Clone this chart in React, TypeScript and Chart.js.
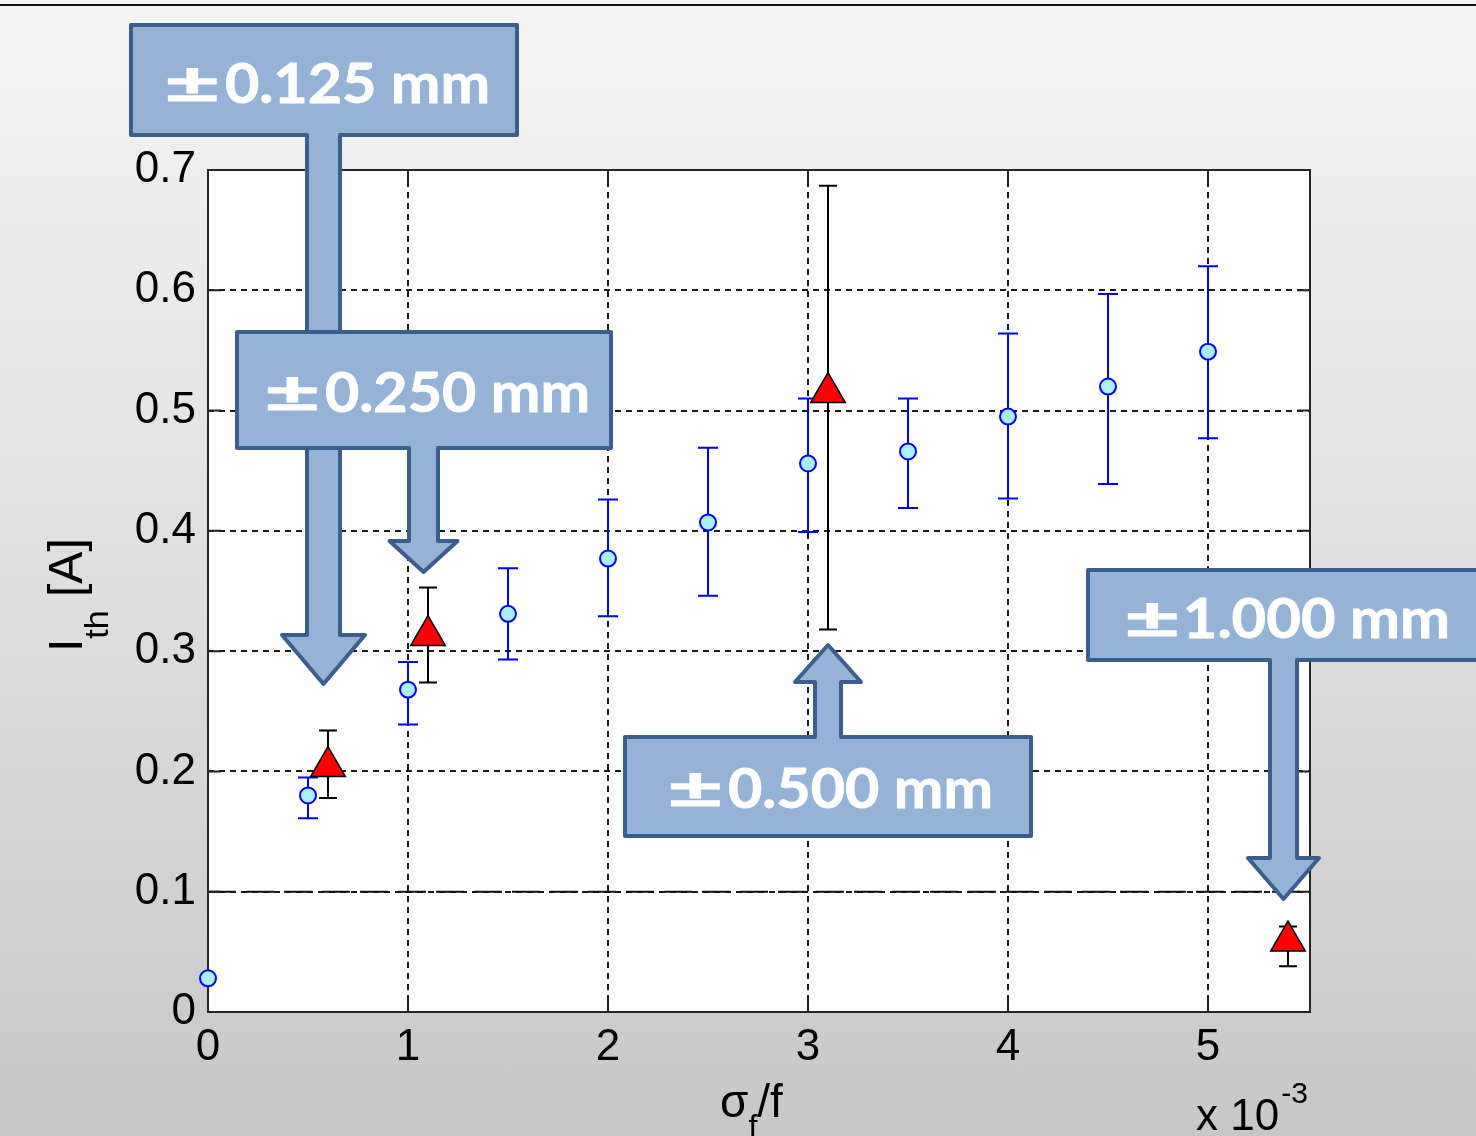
import React, { useEffect, useRef } from 'react';
import { Chart, registerables } from 'chart.js';

Chart.register(...registerables);

// Focal spread σf/f, in units of 10^-3
const ratioMeasured = [0, 0.5, 1.0, 1.5, 2.0, 2.5, 3.0, 3.5, 4.0, 4.5, 5.0];
// Threshold current I_th [A] and its error range
const currentMeasured = [0.028, 0.180, 0.268, 0.331, 0.377, 0.407, 0.456, 0.466, 0.495, 0.520, 0.549];
const upperMeasured = [null, 0.195, 0.291, 0.369, 0.426, 0.469, 0.510, 0.510, 0.564, 0.597, 0.620];
const lowerMeasured = [null, 0.161, 0.239, 0.293, 0.329, 0.346, 0.399, 0.419, 0.427, 0.439, 0.477];

// Tolerance cases
const ratioTolerance = [0.6, 1.1, 3.1, 5.4];
const currentTolerance = [0.204, 0.313, 0.515, 0.059];
const upperTolerance = [0.234, 0.353, 0.687, 0.071];
const lowerTolerance = [0.178, 0.274, 0.318, 0.038];

const xTickValues = [0, 1, 2, 3, 4, 5];
const yTickValues = [0, 0.1, 0.2, 0.3, 0.4, 0.5, 0.6, 0.7];
const thresholdLevel = 0.1;

const toleranceLabels = ['\u00b10.125 mm', '\u00b10.250 mm', '\u00b10.500 mm', '\u00b11.000 mm'];

const W = 1476;
const H = 1136;
const AXIS_FONT = "'Liberation Sans', Arial, sans-serif";
const CALLOUT_FONT = "Lato, 'Open Sans', sans-serif";

type Callout = {
  box: [number, number, number, number];
  stem: number;
  hw: number;
  head: number;
  base: number;
  tip: number;
  textCenter: number;
  baseline: number;
};

const callouts: Callout[] = [
  { box: [131, 25, 517, 135], stem: 323.5, hw: 16.5, head: 41.5, base: 635, tip: 684, textCenter: 327, baseline: 103 },
  { box: [237, 332, 611, 448], stem: 423.5, hw: 14.5, head: 34, base: 541, tip: 572, textCenter: 427, baseline: 412 },
  { box: [625, 737, 1031, 836], stem: 828, hw: 13, head: 33, base: 682, tip: 645, textCenter: 830, baseline: 808 },
  { box: [1088, 570, 1490, 660], stem: 1283.5, hw: 13.5, head: 35.5, base: 858, tip: 899, textCenter: 1287, baseline: 638 },
];

function drawErrorBars(ctx: CanvasRenderingContext2D, chart: any, xs: number[], hi: (number | null)[], lo: (number | null)[], color: string, cap: number) {
  const { x, y } = chart.scales;
  ctx.strokeStyle = color;
  ctx.lineWidth = 2;
  ctx.setLineDash([]);
  xs.forEach((xv, i) => {
    const h = hi[i];
    const l = lo[i];
    if (h == null || l == null) return;
    const px = x.getPixelForValue(xv);
    const pt = y.getPixelForValue(h);
    const pb = y.getPixelForValue(l);
    ctx.beginPath();
    ctx.moveTo(px, pt);
    ctx.lineTo(px, pb);
    ctx.moveTo(px - cap / 2, pt);
    ctx.lineTo(px + cap / 2, pt);
    ctx.moveTo(px - cap / 2, pb);
    ctx.lineTo(px + cap / 2, pb);
    ctx.stroke();
  });
}

function fitText(ctx: CanvasRenderingContext2D, text: string, left: number, right: number, baseline: number, thicken: number) {
  const m = ctx.measureText(text);
  const ink = m.actualBoundingBoxLeft + m.actualBoundingBoxRight;
  const sx = (right - left) / ink;
  ctx.save();
  ctx.translate(left, baseline);
  ctx.scale(sx, 1);
  ctx.fillText(text, m.actualBoundingBoxLeft, 0);
  if (thicken > 0) {
    ctx.lineWidth = thicken;
    ctx.strokeStyle = ctx.fillStyle as string;
    ctx.lineJoin = 'miter';
    ctx.strokeText(text, m.actualBoundingBoxLeft, 0);
  }
  ctx.restore();
}

function drawCallout(ctx: CanvasRenderingContext2D, c: Callout, label: string) {
  const [x0, y0, x1, y1] = c.box;
  const { stem, hw, head, base, tip } = c;
  ctx.beginPath();
  if (tip > y1) {
    ctx.moveTo(x0, y0);
    ctx.lineTo(x1, y0);
    ctx.lineTo(x1, y1);
    ctx.lineTo(stem + hw, y1);
    ctx.lineTo(stem + hw, base);
    ctx.lineTo(stem + head, base);
    ctx.lineTo(stem, tip);
    ctx.lineTo(stem - head, base);
    ctx.lineTo(stem - hw, base);
    ctx.lineTo(stem - hw, y1);
    ctx.lineTo(x0, y1);
  } else {
    ctx.moveTo(x0, y0);
    ctx.lineTo(stem - hw, y0);
    ctx.lineTo(stem - hw, base);
    ctx.lineTo(stem - head, base);
    ctx.lineTo(stem, tip);
    ctx.lineTo(stem + head, base);
    ctx.lineTo(stem + hw, base);
    ctx.lineTo(stem + hw, y0);
    ctx.lineTo(x1, y0);
    ctx.lineTo(x1, y1);
    ctx.lineTo(x0, y1);
  }
  ctx.closePath();
  ctx.fillStyle = '#95b3d7';
  ctx.fill();
  ctx.lineWidth = 4;
  ctx.lineJoin = 'round';
  ctx.strokeStyle = '#3b5e8b';
  ctx.stroke();

  // label: "±" glyph then the number, each fitted to its span
  ctx.fillStyle = '#ffffff';
  ctx.font = `700 56px ${CALLOUT_FONT}`;
  ctx.textAlign = 'left';
  ctx.textBaseline = 'alphabetic';
  const left = c.textCenter - 160;
  fitText(ctx, label.charAt(0), left + 1, left + 49, c.baseline, 1.2);
  fitText(ctx, label.slice(1), left + 59, left + 320, c.baseline, 0.8);
}

const framePlugin = {
  id: 'frameAndBars',
  beforeDraw(chart: any) {
    const { ctx, chartArea: a } = chart;
    ctx.save();
    ctx.fillStyle = '#ffffff';
    ctx.fillRect(a.left, a.top, a.right - a.left, a.bottom - a.top);
    ctx.restore();
  },
  beforeDatasetsDraw(chart: any) {
    const { ctx, chartArea: a, scales } = chart;
    const { x, y } = scales;
    ctx.save();
    // reference level
    const ty = y.getPixelForValue(thresholdLevel);
    ctx.strokeStyle = '#111111';
    ctx.lineWidth = 2;
    ctx.setLineDash([28, 10]);
    ctx.beginPath();
    ctx.moveTo(a.left, ty);
    ctx.lineTo(a.right, ty);
    ctx.stroke();
    ctx.setLineDash([]);

    // inward ticks on all four sides
    const tl = 13;
    ctx.strokeStyle = '#222222';
    ctx.lineWidth = 2;
    ctx.beginPath();
    xTickValues.forEach((v) => {
      const px = x.getPixelForValue(v);
      ctx.moveTo(px, a.bottom);
      ctx.lineTo(px, a.bottom - tl);
      ctx.moveTo(px, a.top);
      ctx.lineTo(px, a.top + tl);
    });
    yTickValues.forEach((v) => {
      const py = y.getPixelForValue(v);
      ctx.moveTo(a.left, py);
      ctx.lineTo(a.left + tl, py);
      ctx.moveTo(a.right, py);
      ctx.lineTo(a.right - tl, py);
    });
    ctx.stroke();

    // plot frame
    ctx.strokeStyle = '#262626';
    ctx.lineWidth = 2;
    ctx.strokeRect(a.left, a.top, a.right - a.left, a.bottom - a.top);

    drawErrorBars(ctx, chart, ratioMeasured, upperMeasured, lowerMeasured, '#0000ff', 20);
    drawErrorBars(ctx, chart, ratioTolerance, upperTolerance, lowerTolerance, '#000000', 18);
    ctx.restore();
  },
  afterDraw(chart: any) {
    const { ctx } = chart;
    ctx.save();
    ctx.fillStyle = '#000000';
    ctx.textAlign = 'left';
    ctx.textBaseline = 'alphabetic';

    // y axis title: I_th [A]
    ctx.save();
    ctx.translate(82, 652);
    ctx.rotate(-Math.PI / 2);
    ctx.font = `48px ${AXIS_FONT}`;
    ctx.fillText('I', 0, 0);
    let w = ctx.measureText('I').width;
    ctx.font = `34px ${AXIS_FONT}`;
    ctx.fillText('th', w, 26);
    w += ctx.measureText('th').width;
    ctx.font = `48px ${AXIS_FONT}`;
    ctx.fillText(' [A]', w, 0);
    ctx.restore();

    // x axis title: σ_f / f
    ctx.font = `46px ${AXIS_FONT}`;
    let xx = 720;
    ctx.fillText('\u03c3', xx, 1117);
    xx += ctx.measureText('\u03c3').width;
    ctx.font = `32px ${AXIS_FONT}`;
    ctx.fillText('f', xx, 1137);
    xx += ctx.measureText('f').width;
    ctx.font = `46px ${AXIS_FONT}`;
    ctx.fillText('/f', xx, 1117);

    // exponent note
    ctx.font = `44px ${AXIS_FONT}`;
    ctx.fillText('x 10', 1196, 1130);
    const ew = ctx.measureText('x 10').width;
    ctx.font = `30px ${AXIS_FONT}`;
    ctx.fillText('-3', 1196 + ew + 2, 1103);

    // top rule
    ctx.strokeStyle = '#111111';
    ctx.lineWidth = 2;
    ctx.beginPath();
    ctx.moveTo(0, 5);
    ctx.lineTo(W, 5);
    ctx.stroke();

    callouts.forEach((c, i) => drawCallout(ctx, c, toleranceLabels[i]));
    ctx.restore();
  },
};

export default function App() {
  const canvasRef = useRef<HTMLCanvasElement | null>(null);

  useEffect(() => {
    const canvas = canvasRef.current;
    if (!canvas) return;
    const chart = new Chart(canvas, {
      type: 'scatter',
      data: {
        datasets: [
          {
            label: 'measured',
            data: ratioMeasured.map((r, i) => ({ x: r, y: currentMeasured[i] })),
            pointStyle: 'circle',
            pointRadius: 8,
            pointBorderWidth: 2,
            pointBorderColor: '#0000ff',
            pointBackgroundColor: '#aaeeff',
            clip: false as any,
          },
          {
            label: 'tolerance',
            data: ratioTolerance.map((r, i) => ({ x: r, y: currentTolerance[i] })),
            pointStyle: 'triangle',
            pointRadius: 20,
            pointBorderWidth: 1.5,
            pointBorderColor: '#000000',
            pointBackgroundColor: '#ff0000',
            clip: false as any,
          },
        ],
      },
      options: {
        responsive: false,
        animation: false,
        devicePixelRatio: 1,
        layout: { padding: { left: 0, right: W - 1310, top: 170, bottom: 0 } },
        plugins: { legend: { display: false }, tooltip: { enabled: false } },
        events: [],
        scales: {
          x: {
            type: 'linear',
            min: 0,
            max: 5.51,
            afterBuildTicks: (s: any) => {
              s.ticks = xTickValues.map((v) => ({ value: v }));
            },
            afterFit: (s: any) => {
              s.height = H - 1012;
            },
            grid: { color: '#1a1a1a', lineWidth: 2, drawTicks: false },
            border: { display: false, dash: [6, 5] },
            ticks: {
              autoSkip: false,
              maxRotation: 0,
              padding: 9,
              color: '#000000',
              font: { family: AXIS_FONT, size: 44 },
              callback: (v: any) => String(v),
            },
          },
          y: {
            type: 'linear',
            min: 0,
            max: 0.7,
            afterBuildTicks: (s: any) => {
              s.ticks = yTickValues.map((v) => ({ value: v }));
            },
            afterFit: (s: any) => {
              s.width = 208;
            },
            grid: { color: '#1a1a1a', lineWidth: 2, drawTicks: false },
            border: { display: false, dash: [6, 5] },
            ticks: {
              autoSkip: false,
              padding: 12,
              color: '#000000',
              font: { family: AXIS_FONT, size: 44 },
              callback: (v: any) => (Number(v) === 0 ? '0' : Number(v).toFixed(1)),
            },
          },
        },
      },
      plugins: [framePlugin],
    });
    return () => chart.destroy();
  }, []);

  return (
    <div
      style={{
        position: 'fixed',
        left: 0,
        top: 0,
        width: W,
        height: H,
        background: 'linear-gradient(to bottom, #f4f4f4 0%, #e2e2e2 45%, #c7c7c7 100%)',
      }}
    >
      <canvas ref={canvasRef} width={W} height={H} style={{ display: 'block', width: W, height: H }} />
    </div>
  );
}
